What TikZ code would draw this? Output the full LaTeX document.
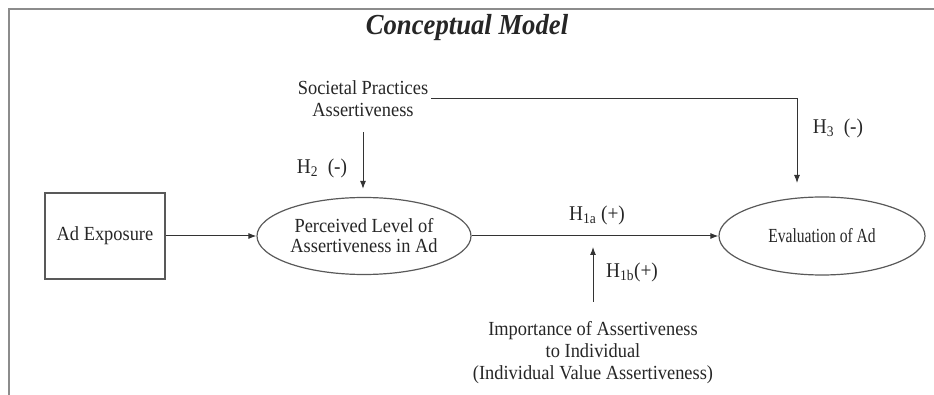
\documentclass[tikz,border=0pt]{standalone}
\usepackage{fontspec}
\setmainfont{Liberation Serif}[FakeStretch=0.92]
\newfontfamily\evalfont{Liberation Serif}[FakeStretch=0.78]
\usetikzlibrary{arrows.meta,positioning,shapes.geometric}

\begin{document}
\begin{tikzpicture}[x=1pt, y=-1pt, >={Latex[length=8pt,width=6pt]},
    font=\fontsize{20}{22}\selectfont, text=black!85,
    construct/.style={ellipse, draw=black!65, line width=1.2pt, inner sep=0pt, align=center},
    factor/.style={align=center, inner sep=3pt},
    hyp/.style={font=\fontsize{21}{24}\selectfont, inner sep=0pt},
    link/.style={->, line width=1pt, draw=black!80}]
    \useasboundingbox (0,0) rectangle (934,395);
    \draw[black!45, line width=2pt] (9,395) -- (9,9) -- (934,9);
    \node[font=\fontsize{29}{32}\selectfont\bfseries\itshape] (title) at (467,28) {Conceptual Model};
    \node[factor] (soc) at (363,99) {Societal Practices\\Assertiveness};
    \node[draw=black!65, line width=1.2pt, minimum width=120pt, minimum height=86pt] (ad) at (105,236) {Ad Exposure};
    \node[construct, minimum width=214pt, minimum height=77pt, font=\fontsize{20}{20}\selectfont] (perc) at (364,236) {Perceived Level of\\Assertiveness in Ad};
    \node[construct, minimum width=206pt, minimum height=78pt, font=\fontsize{20}{22}\evalfont] (eval) at (822,236) {Evaluation of Ad};
    \node[factor] (imp) at (593,353) {Importance of Assertiveness\\to Individual\\(Individual Value Assertiveness)};
    \coordinate (h3tip) at (797,183);
    % hypotheses
    \node[hyp] (h2) at (322,168) {H\textsubscript{2}\ \ (-)};
    \node[hyp] (h3) at (838,128) {H\textsubscript{3}\ \ (-)};
    \node[hyp] (h1a) at (597,215) {H\textsubscript{1a} (+)};
    \node[hyp] (h1b) at (632,272) {H\textsubscript{1b}(+)};
    \draw[link] (ad) -- (perc);
    \draw[link] (perc) -- (eval);
    \draw[link, shorten <=12pt, shorten >=8pt] (soc.south) -- (soc.south |- perc.north);
    \draw[link] (soc.east) -| (h3tip);
    \draw[link, shorten <=17pt, shorten >=11pt] (imp.north) -- (imp.north |- perc.east);
\end{tikzpicture}
\end{document}
